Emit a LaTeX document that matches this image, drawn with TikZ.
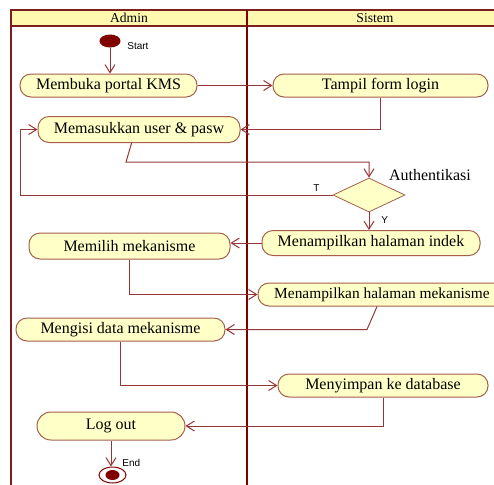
\documentclass[tikz,border=0pt]{standalone}
\usepackage{fontspec}
\setmainfont{Liberation Serif}
\newfontfamily\lblfont{Liberation Sans}
\usetikzlibrary{arrows.meta,shapes.geometric}
\definecolor{framered}{RGB}{122,30,30}
\definecolor{lanered}{RGB}{128,0,0}
\definecolor{linered}{RGB}{150,55,55}
\definecolor{actfill}{RGB}{255,255,200}
\definecolor{headfill}{RGB}{255,249,176}
\definecolor{actborder}{RGB}{165,95,75}
\tikzset{>={Straight Barb[length=4pt,width=5pt]},every node/.style={font=\fontsize{8}{9}\selectfont},
act/.style={draw=actborder,fill=actfill,rounded corners=5.5pt,inner sep=0pt,minimum height=11.5pt,line width=.5pt},
flow/.style={draw=linered,line width=.5pt,->},
lbl/.style={font=\lblfont\fontsize{5}{6}\selectfont,inner sep=0pt,anchor=west},
head/.style={font=\fontsize{6.8}{8}\selectfont}}

\begin{document}
\begin{tikzpicture}[x=.5pt,y=-.5pt]
\useasboundingbox (0,0) rectangle (494,484);\clip (0,0) rectangle (494,484);
\fill[white] (0,0) rectangle (494,484);
\draw[framered,fill=headfill,line width=.8pt] (11,10) rectangle (540,26);\draw[framered,line width=.8pt] (11,26)--(11,520);
\draw[lanered,line width=1.4pt] (247,10)--(247,520);
\node[head] (admin) at (129,18){Admin};\node[head] (sistem) at (375,18){Sistem};
\node[ellipse,fill=lanered,minimum width=10.5pt,minimum height=6.5pt,inner sep=0pt] (start) at (110,41){};\node[lbl] (startlbl) at (127,46){Start};
\node[act,minimum width=88.5pt] (membuka) at (108.5,85.5){Membuka portal KMS};
\node[act,minimum width=107.5pt] (tampil) at (380.5,85.5){Tampil form login};
\node[act,minimum width=101pt,minimum height=13pt] (masuk) at (139,129.5){Memasukkan user \& pasw};
\node[diamond,draw=actborder,fill=actfill,minimum width=36pt,minimum height=17pt,inner sep=0pt] (auth) at (369,195){};
\node (authlbl) at (430,175){Authentikasi};
\node[act,minimum width=109pt,minimum height=12.5pt] (indek) at (371,243){Menampilkan halaman indek};
\node[act,minimum width=100.5pt,minimum height=13pt] (pilih) at (129.5,246){Memilih mekanisme};
\node[act,minimum width=124pt,font=\fontsize{7.7}{9}\selectfont] (mekan) at (382,294.5){Menampilkan halaman mekanisme};
\node[act,minimum width=104.5pt] (isi) at (120.5,329.5){Mengisi data mekanisme};
\node[act,minimum width=105pt] (simpan) at (383,385.5){Menyimpan ke database};
\node[act,minimum width=74pt,minimum height=14pt,rounded corners=7pt] (logout) at (111,426){Log out};
\node[ellipse,draw=lanered,fill=white,line width=.5pt,minimum width=13.5pt,minimum height=8pt,inner sep=0pt] (final) at (112.5,475){};
\node[ellipse,fill=lanered,minimum width=7pt,minimum height=5pt,inner sep=0pt] (finaldot) at (112.5,475){};\node[lbl] (endlbl) at (122,463){End};
\coordinate (bendA) at (126,162);\coordinate (backT) at (20,195);\coordinate (bendB) at (367,329.5);
\draw[flow] (start)--(start|-membuka.north);\draw[flow] (membuka)--(tampil);\draw[flow] (tampil.south)|-(masuk.east);
\draw[flow] ([xshift=-3.7pt]masuk.south)--(bendA)-|(auth.north);
\draw[flow] (auth.west)--(backT)|-(masuk.west);\node[lbl] (tlbl) at (313,188){T};
\draw[flow] (auth.south)--(auth.south|-indek.north);\node[lbl] (ylbl) at (381,220){Y};
\draw[flow] (indek.west)--(pilih.east|-indek.west);\draw[flow] (pilih.south)|-(mekan.west);
\draw[flow] ([xshift=-2.5pt]mekan.south)--(bendB)--(isi.east);\draw[flow] (isi.south)|-(simpan.west);
\draw[flow] (simpan.south)|-(logout.east);\draw[flow] (logout.south)--(logout.south|-final.north);
\end{tikzpicture}
\end{document}
